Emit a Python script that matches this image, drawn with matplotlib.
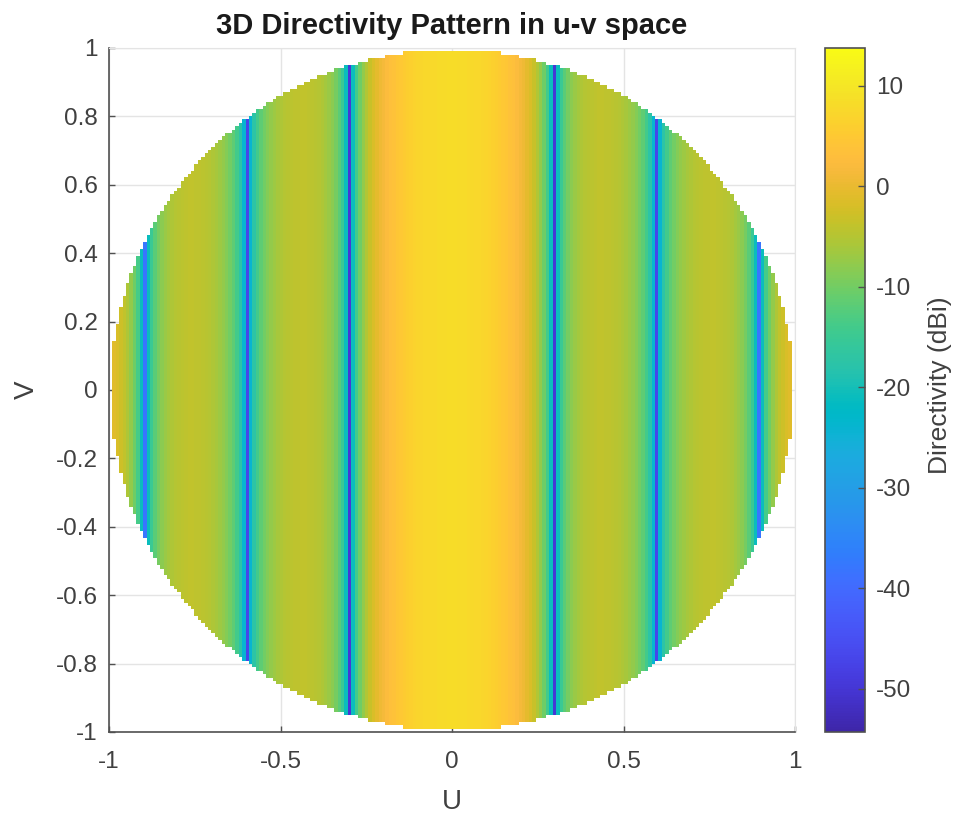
import numpy as np
import matplotlib
matplotlib.use("Agg")
import matplotlib.pyplot as plt
from matplotlib.colors import LinearSegmentedColormap

plt.rcParams['font.family'] = ['Liberation Sans', 'DejaVu Sans']
plt.rcParams['axes.unicode_minus'] = False

# directivity (dBi) read across the plot, one value per column, left half up to the centre
directivity_neg = [
    -0.5, -1.0, -1.8, -2.8, -4.0, -5.6, -7.6, -10.2, -13.8, -21.0,
    -38.0, -21.0, -15.0, -11.8, -9.7, -8.2, -7.1, -6.2, -5.6, -5.1,
    -4.7, -4.4, -4.2, -4.0, -4.0, -4.1, -4.2, -4.4, -4.7, -5.1,
    -5.6, -6.1, -6.8, -7.7, -8.7, -10.0, -11.7, -14.0, -17.5, -24.0,
    -47.0, -24.0, -17.5, -14.0, -11.7, -10.0, -8.7, -7.7, -6.8, -6.1,
    -5.6, -5.1, -4.7, -4.4, -4.2, -4.1, -4.0, -4.0, -4.2, -4.4,
    -4.7, -5.1, -5.6, -6.2, -7.1, -8.2, -9.7, -11.8, -15.0, -21.0,
    -50.0, -21.0, -14.0, -10.2, -7.5, -5.2, -3.4, -1.9, -0.5, 0.6,
    1.5, 2.4, 3.2, 3.9, 4.5, 5.0, 5.5, 5.9, 6.3, 6.6,
    6.9, 7.2, 7.4, 7.6, 7.8, 7.9, 8.0, 8.1, 8.1, 8.2,
]
directivity_mid = [8.2]
directivity_pos = directivity_neg[::-1]

clim = (-54.31, 13.78)
cbar_ticks = [-50, -40, -30, -20, -10, 0, 10]
x_ticks = [-1, -0.5, 0, 0.5, 1]
x_labels = ['-1', '-0.5', '0', '0.5', '1']
y_ticks = [-1, -0.8, -0.6, -0.4, -0.2, 0, 0.2, 0.4, 0.6, 0.8, 1]
y_labels = ['-1', '-0.8', '-0.6', '-0.4', '-0.2', '0', '0.2', '0.4', '0.6', '0.8', '1']

parula_colors = [
    (0.2422, 0.1504, 0.6603), (0.2504, 0.1650, 0.7076), (0.2578, 0.1818, 0.7511), (0.2647, 0.1978, 0.7952),
    (0.2706, 0.2147, 0.8364), (0.2751, 0.2342, 0.8710), (0.2783, 0.2559, 0.8991), (0.2803, 0.2782, 0.9221),
    (0.2813, 0.3006, 0.9414), (0.2810, 0.3228, 0.9579), (0.2795, 0.3447, 0.9717), (0.2760, 0.3667, 0.9829),
    (0.2699, 0.3892, 0.9906), (0.2602, 0.4123, 0.9952), (0.2440, 0.4358, 0.9988), (0.2206, 0.4603, 0.9973),
    (0.1963, 0.4847, 0.9892), (0.1834, 0.5074, 0.9798), (0.1786, 0.5289, 0.9682), (0.1764, 0.5499, 0.9520),
    (0.1687, 0.5703, 0.9359), (0.1540, 0.5902, 0.9218), (0.1460, 0.6091, 0.9079), (0.1380, 0.6276, 0.8973),
    (0.1248, 0.6459, 0.8883), (0.1113, 0.6635, 0.8763), (0.0952, 0.6798, 0.8598), (0.0689, 0.6948, 0.8394),
    (0.0297, 0.7082, 0.8163), (0.0036, 0.7197, 0.7917), (0.0067, 0.7290, 0.7661), (0.0433, 0.7411, 0.7394),
    (0.0964, 0.7500, 0.7120), (0.1408, 0.7584, 0.6842), (0.1717, 0.7670, 0.6554), (0.1938, 0.7758, 0.6251),
    (0.2161, 0.7843, 0.5923), (0.2470, 0.7918, 0.5567), (0.2906, 0.7973, 0.5188), (0.3406, 0.8008, 0.4789),
    (0.3909, 0.8029, 0.4354), (0.4456, 0.8024, 0.3909), (0.5044, 0.7993, 0.3480), (0.5616, 0.7942, 0.3045),
    (0.6174, 0.7876, 0.2612), (0.6720, 0.7793, 0.2227), (0.7242, 0.7698, 0.1910), (0.7738, 0.7598, 0.1646),
    (0.8203, 0.7498, 0.1535), (0.8634, 0.7406, 0.1596), (0.9035, 0.7330, 0.1774), (0.9393, 0.7288, 0.2100),
    (0.9728, 0.7298, 0.2394), (0.9956, 0.7434, 0.2371), (0.9970, 0.7659, 0.2199), (0.9952, 0.7861, 0.1990),
    (0.9892, 0.8138, 0.1816), (0.9786, 0.8387, 0.1717), (0.9676, 0.8629, 0.1584), (0.9610, 0.8890, 0.1537),
    (0.9597, 0.9135, 0.1423), (0.9628, 0.9373, 0.1265), (0.9691, 0.9606, 0.1064), (0.9769, 0.9839, 0.0805),
]
parula = LinearSegmentedColormap.from_list('parula', parula_colors, N=256)

W, H = 958, 815
text_gray = '#404040'
axis_gray = '#505050'
grid_gray = '#e4e4e4'
tick_size = 17.5

column_vals = np.array(directivity_neg + directivity_mid + directivity_pos)
u = np.linspace(-0.995, 0.995, len(column_vals))
v = np.linspace(-0.995, 0.995, len(column_vals))
U, V = np.meshgrid(u, v)
Z = np.ma.masked_where(U**2 + V**2 > 0.99, np.tile(column_vals, (len(v), 1)))

fig = plt.figure(figsize=(W / 100, H / 100), dpi=100)
ax = fig.add_axes([109 / W, 1 - 732 / H, (795 - 109) / W, (732 - 48) / H])
mesh = ax.pcolormesh(U, V, Z, cmap=parula, vmin=clim[0], vmax=clim[1], shading='nearest', zorder=3)
ax.set_xlim(-1, 1)
ax.set_ylim(-1, 1)
ax.set_xticks(x_ticks)
ax.set_xticklabels(x_labels)
ax.set_yticks(y_ticks)
ax.set_yticklabels(y_labels)
ax.grid(True, color=grid_gray, linewidth=1.0, zorder=1)
ax.set_axisbelow(True)
ax.tick_params(direction='in', length=4.5, width=1.0, color=axis_gray, labelcolor=text_gray,
               labelsize=tick_size)
ax.tick_params(axis='x', pad=14)
ax.tick_params(axis='y', pad=8)
for side in ['top', 'right']:
    ax.spines[side].set_color(grid_gray)
for side in ['left', 'bottom']:
    ax.spines[side].set_color(axis_gray)
    ax.spines[side].set_linewidth(1.2)

fig.text(452 / W, 1 - 26 / H, '3D Directivity Pattern in u-v space', ha='center', va='center',
         fontsize=21, fontweight='bold', color='#1a1a1a')
fig.text(452 / W, 1 - 802 / H, 'U', ha='center', va='center', fontsize=20, color=text_gray)
fig.text(27 / W, 1 - 390 / H, 'V', ha='center', va='center', rotation=90, fontsize=20, color=text_gray)

cax = fig.add_axes([825 / W, 1 - 732 / H, (865 - 825) / W, (732 - 48) / H])
cbar = fig.colorbar(mesh, cax=cax)
cbar.set_ticks(cbar_ticks)
cbar.set_ticklabels([str(t) for t in cbar_ticks])
cax.tick_params(direction='in', length=5, width=1.0, color=axis_gray, labelcolor=text_gray,
                labelsize=tick_size, pad=8)
cbar.outline.set_edgecolor(axis_gray)
cbar.outline.set_linewidth(1.2)
fig.text(940 / W, 1 - 385 / H, 'Directivity (dBi)', ha='center', va='center', rotation=90,
         fontsize=19, color=text_gray)

fig.savefig('out.png', dpi=100)
